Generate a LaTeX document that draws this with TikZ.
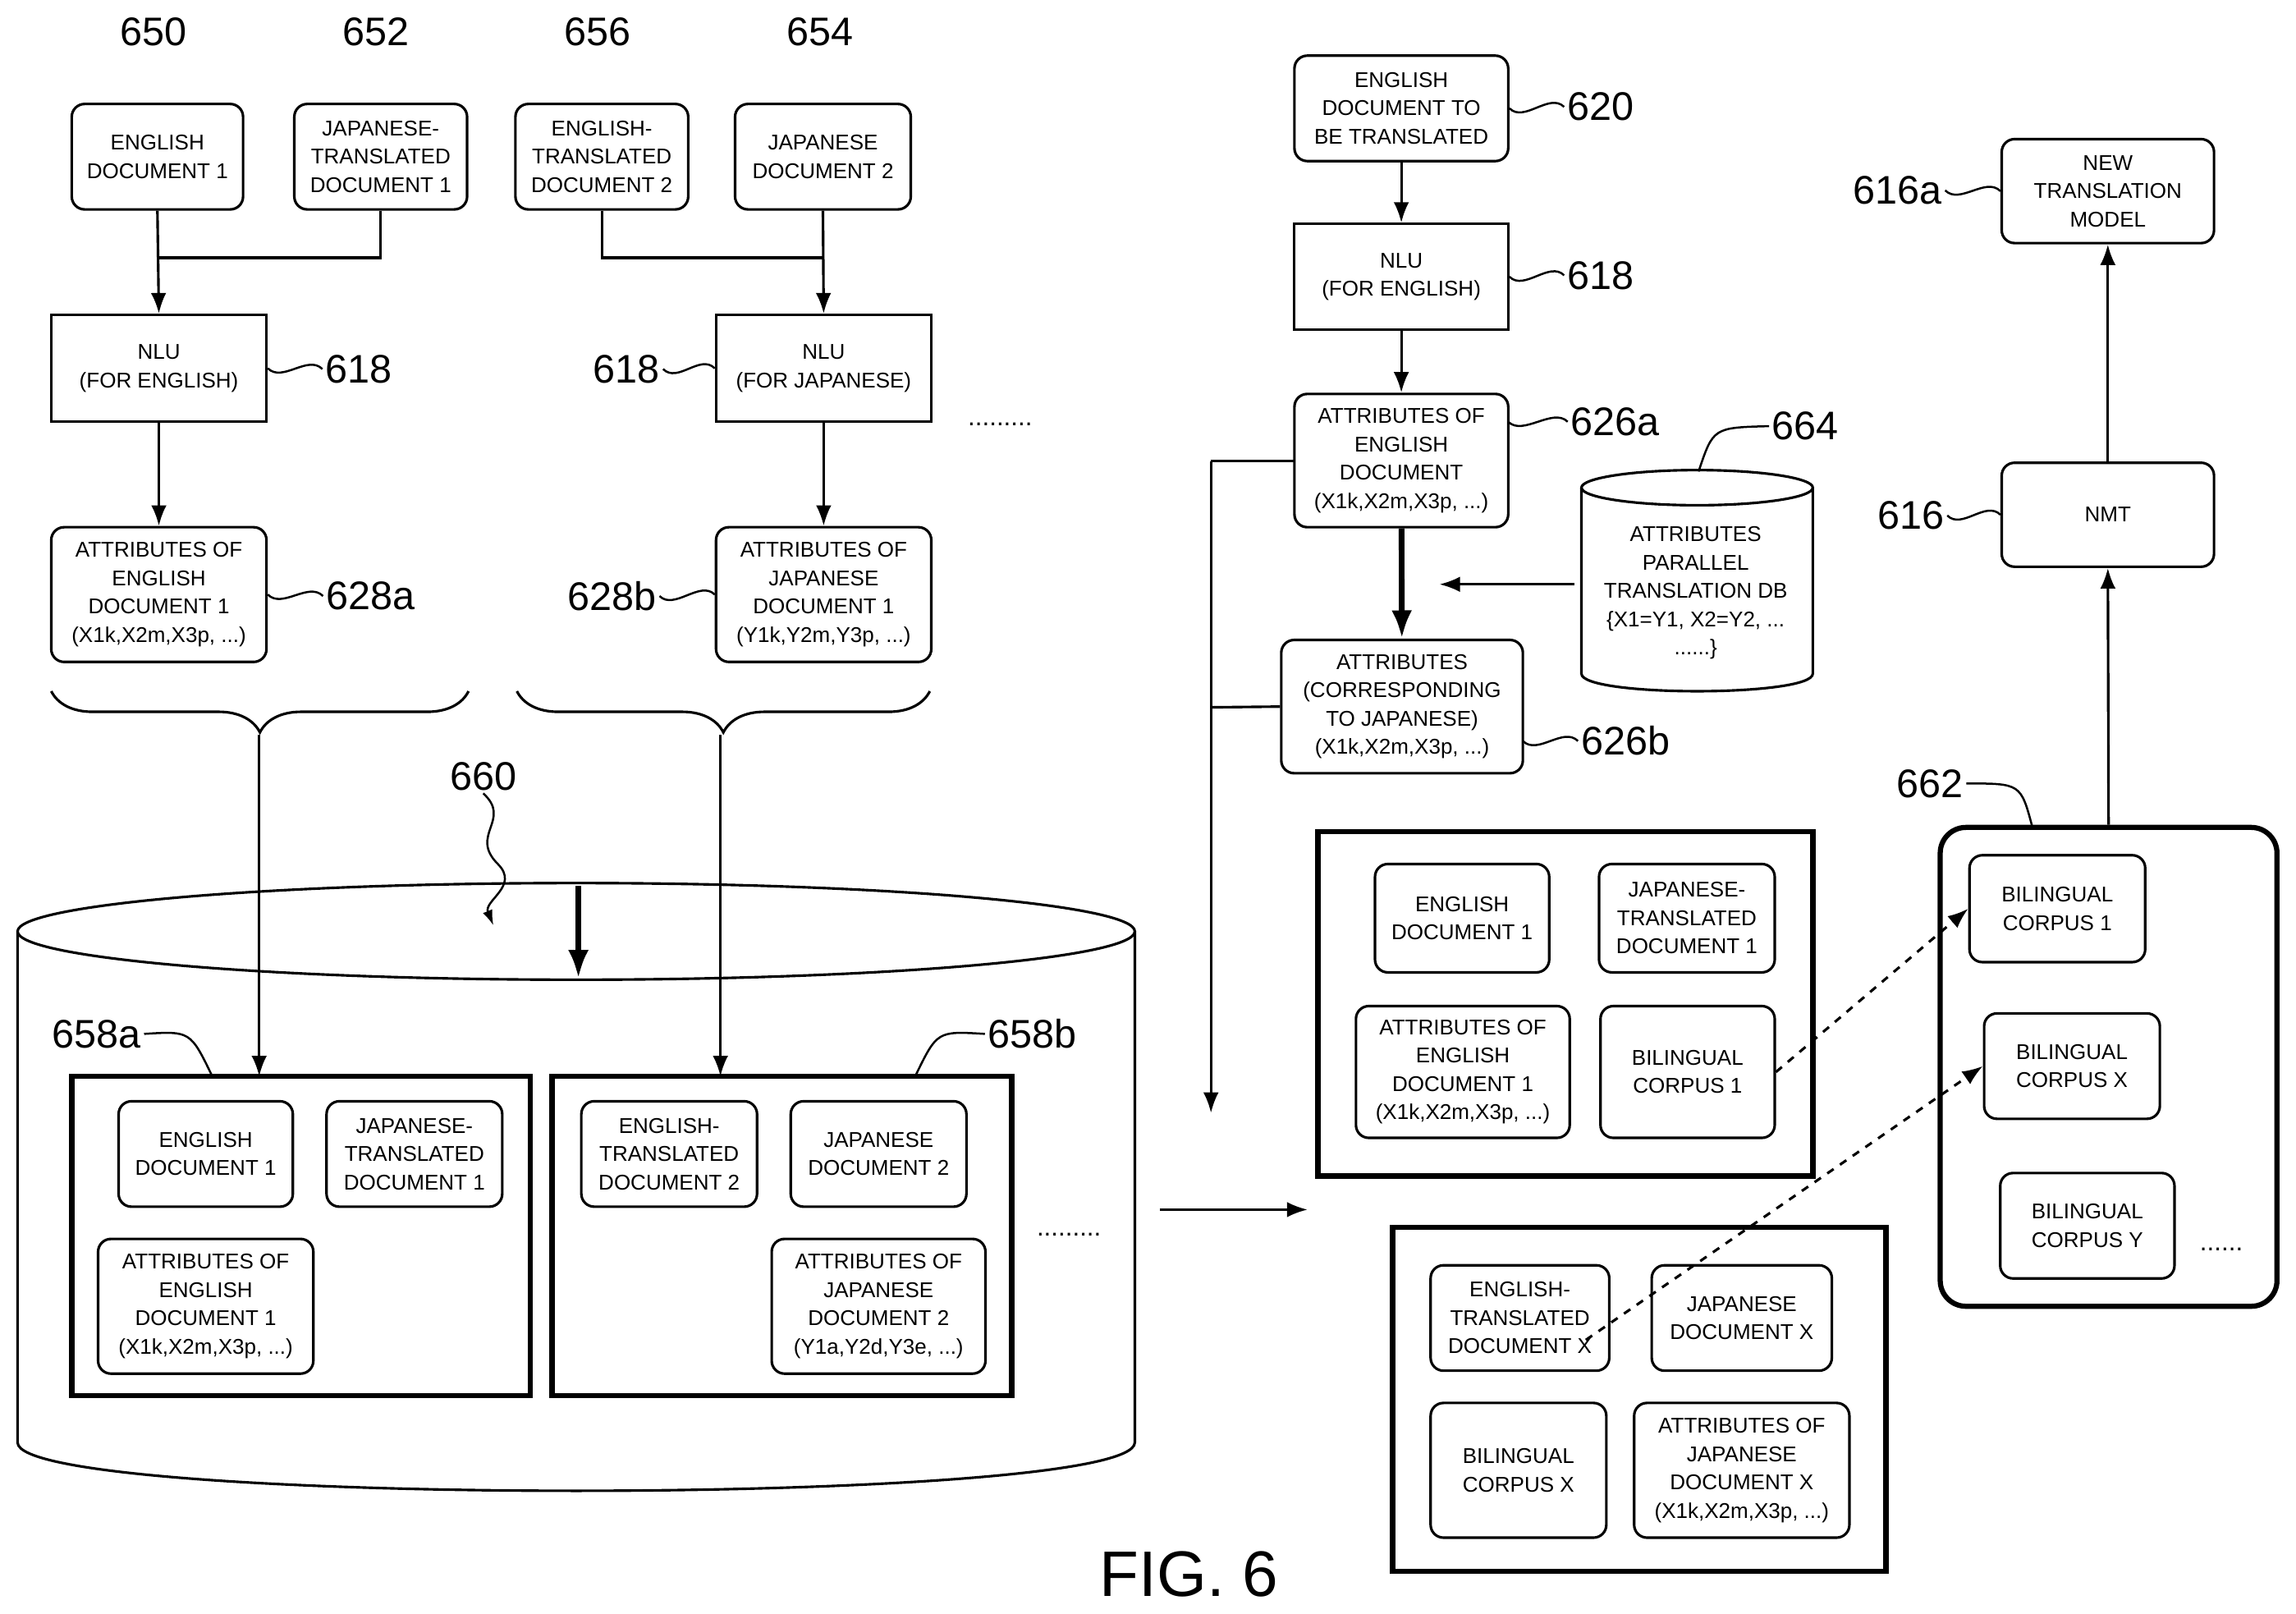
\documentclass[tikz,border=0pt]{standalone}
\usepackage{fontspec}
\setmainfont{Liberation Sans}
\usetikzlibrary{arrows,arrows.meta,decorations.pathreplacing}
\tikzstyle{doc}=[draw, rounded corners=5pt, align=center, inner sep=1pt, font=\fontsize{8.3}{11}\selectfont, line width=1pt]
\tikzstyle{blk}=[draw, align=center, inner sep=1pt, font=\fontsize{8.3}{11}\selectfont, line width=1pt]
\tikzstyle{grp}=[draw, line width=2pt]
\tikzstyle{num}=[font=\fontsize{15.5}{18}\selectfont, inner sep=1pt]
\tikzstyle{flow}=[-{Latex[length=8pt,width=6pt]}, line width=1pt]
\newcommand\lead[2]{\draw[line width=0.8pt] (#1) .. controls +(10,10) and +(-10,-10) .. (#2);}
\begin{document}
\begin{tikzpicture}[x=0.02cm, y=-0.02cm]
	\useasboundingbox (0,0) rectangle (1568,1102);
	% left documents
	\node [doc, minimum width=117*0.02cm, minimum height=72*0.02cm] (d650) at (107.5,107) {ENGLISH\\DOCUMENT 1};
	\node [doc, minimum width=118*0.02cm, minimum height=72*0.02cm] (d652) at (260,107) {JAPANESE-\\TRANSLATED\\DOCUMENT 1};
	\node [doc, minimum width=118*0.02cm, minimum height=72*0.02cm] (d656) at (411,107) {ENGLISH-\\TRANSLATED\\DOCUMENT 2};
	\node [doc, minimum width=120*0.02cm, minimum height=72*0.02cm] (d654) at (562,107) {JAPANESE\\DOCUMENT 2};
	\node [num] (l650) at (105,22) {650};
	\node [num] (l652) at (257,22) {652};
	\node [num] (l656) at (408,22) {656};
	\node [num] (l654) at (560,22) {654};
	\node [blk, minimum width=147*0.02cm, minimum height=73*0.02cm] (nluE) at (108.5,251.5) {NLU\\(FOR ENGLISH)};
	\node [blk, minimum width=147*0.02cm, minimum height=73*0.02cm] (nluJ) at (562.5,251.5) {NLU\\(FOR JAPANESE)};
	\node [doc, minimum width=147*0.02cm, minimum height=92*0.02cm] (atE) at (108.5,406) {ATTRIBUTES OF\\ENGLISH\\DOCUMENT 1\\(X1k,X2m,X3p, ...)};
	\node [doc, minimum width=147*0.02cm, minimum height=92*0.02cm] (atJ) at (562.5,406) {ATTRIBUTES OF\\JAPANESE\\DOCUMENT 1\\(Y1k,Y2m,Y3p, ...)};
	\node [num] (l618a) at (245,252) {618};
	\node [num] (l618b) at (428,252) {618};
	\node [num] (l628a) at (253,407) {628a};
	\node [num] (l628b) at (418,407) {628b};
	\node (dots1) at (683,290) {.........};
	\draw [flow] (d650.south) -- (nluE.north);
	\draw [line width=1pt] (d652.south) |- (108,176);
	\draw [flow] (d654.south) -- (nluJ.north);
	\draw [line width=1pt] (d656.south) |- (562,176);
	\draw [flow] (nluE) -- (atE);
	\draw [flow] (nluJ) -- (atJ);
	\lead{nluE.east}{l618a.west}
	\lead{l618b.east}{nluJ.west}
	\lead{atE.east}{l628a.west}
	\lead{l628b.east}{atJ.west}
	% database 660
	\draw [line width=1pt] (393.5,636) ellipse (381.5 and 33);
	\draw [line width=1pt] (12,636) -- (12,985) .. controls (12,1029) and (775,1029) .. (775,985) -- (775,636);
	\draw [-{Latex[length=11pt,width=8pt]}, line width=2pt] (395,605) -- (395,668);
	\node [num] (l660) at (330,530) {660};
	\draw [-{Latex[length=6pt,width=4pt]}, line width=0.8pt] (l660.south) .. controls (350,560) and (320,570) .. (340,590) .. controls (355,605) and (330,615) .. (337,632);
	\node [grp, minimum width=313*0.02cm, minimum height=218*0.02cm] (g658a) at (205.5,844) {};
	\node [grp, minimum width=314*0.02cm, minimum height=218*0.02cm] (g658b) at (534,844) {};
	\node [doc, minimum width=119*0.02cm, minimum height=72*0.02cm] (a1) at (140.5,788) {ENGLISH\\DOCUMENT 1};
	\node [doc, minimum width=120*0.02cm, minimum height=72*0.02cm] (a2) at (283,788) {JAPANESE-\\TRANSLATED\\DOCUMENT 1};
	\node [doc, minimum width=147*0.02cm, minimum height=92*0.02cm] (a3) at (140.5,892) {ATTRIBUTES OF\\ENGLISH\\DOCUMENT 1\\(X1k,X2m,X3p, ...)};
	\node [doc, minimum width=120*0.02cm, minimum height=72*0.02cm] (b1) at (457,788) {ENGLISH-\\TRANSLATED\\DOCUMENT 2};
	\node [doc, minimum width=120*0.02cm, minimum height=72*0.02cm] (b2) at (600,788) {JAPANESE\\DOCUMENT 2};
	\node [doc, minimum width=146*0.02cm, minimum height=92*0.02cm] (b3) at (600,892) {ATTRIBUTES OF\\JAPANESE\\DOCUMENT 2\\(Y1a,Y2d,Y3e, ...)};
	\node (dots2) at (730,843) {.........};
	\node [num] (l658a) at (66,706) {658a};
	\node [num] (l658b) at (705,706) {658b};
	\draw [line width=0.8pt] (l658a.east) .. controls (130,704) .. (145,735);
	\draw [line width=0.8pt] (l658b.west) .. controls (640,704) .. (625,735);
	\draw [decorate, decoration={brace, amplitude=16pt}, line width=1pt] (320,472) -- (35,472);
	\draw [decorate, decoration={brace, amplitude=16pt}, line width=1pt] (635,472) -- (353,472);
	\coordinate (brA) at (177,502);
	\coordinate (brB) at (492,502);
	\draw [flow] (brA) -- (177,735);
	\draw [flow] (brB) -- (492,735);
	\coordinate (arS) at (792,826);
	\coordinate (arE) at (893,826);
	\draw [flow] (arS) -- (arE);
	\node [font=\fontsize{25}{30}\selectfont] (fig) at (812,1075) {FIG. 6};
	% translation side
	\node [doc, minimum width=146*0.02cm, minimum height=72*0.02cm] (m620) at (957,74) {ENGLISH\\DOCUMENT TO\\BE TRANSLATED};
	\node [blk, minimum width=146*0.02cm, minimum height=72*0.02cm] (mNLU) at (957,189) {NLU\\(FOR ENGLISH)};
	\node [doc, minimum width=146*0.02cm, minimum height=91*0.02cm] (m626a) at (957,314.5) {ATTRIBUTES OF\\ENGLISH\\DOCUMENT\\(X1k,X2m,X3p, ...)};
	\node [doc, minimum width=165*0.02cm, minimum height=91*0.02cm] (m626b) at (957.5,482.5) {ATTRIBUTES\\(CORRESPONDING\\TO JAPANESE)\\(X1k,X2m,X3p, ...)};
	\node [num] (l620) at (1093,73) {620};
	\node [num] (l618c) at (1093,188) {618};
	\node [num] (l626a) at (1103,288) {626a};
	\node [num] (l626b) at (1110,506) {626b};
	\lead{m620.east}{l620.west}
	\lead{mNLU.east}{l618c.west}
	\lead{1030,288}{l626a.west}
	\lead{1040,506}{l626b.west}
	\draw [flow] (m620) -- (mNLU);
	\draw [flow] (mNLU) -- (m626a);
	\draw [-{Latex[length=11pt,width=8pt]}, line width=2.2pt] (m626a) -- (m626b);
	\draw [line width=1pt] (884,315) -- (827,315);
	\draw [line width=1pt] (m626b.west) -- (827,483);
	\draw [flow] (827,315) -- (827,760);
	% database 664
	\draw [line width=1pt] (1159,333) ellipse (79 and 12);
	\draw [line width=1pt] (1080,333) -- (1080,460) .. controls (1080,476) and (1238,476) .. (1238,460) -- (1238,333);
	\node [align=center, font=\fontsize{8.3}{11}\selectfont] (c664) at (1158,405) {ATTRIBUTES\\PARALLEL\\TRANSLATION DB\\\{X1=Y1, X2=Y2, ...\\......\}};
	\node [num] (l664) at (1233,291) {664};
	\draw [line width=0.8pt] (l664.west) .. controls (1170,292) .. (1160,322);
	\coordinate (dbL) at (1075,399);
	\draw [flow] (dbL) -- (983,399);
	% corpus groups
	\node [grp, minimum width=338*0.02cm, minimum height=235*0.02cm] (g1) at (1069,685.5) {};
	\node [doc, minimum width=119*0.02cm, minimum height=74*0.02cm] (e1) at (998.5,627) {ENGLISH\\DOCUMENT 1};
	\node [doc, minimum width=120*0.02cm, minimum height=74*0.02cm] (e2) at (1152,627) {JAPANESE-\\TRANSLATED\\DOCUMENT 1};
	\node [doc, minimum width=146*0.02cm, minimum height=90*0.02cm] (e3) at (999,732) {ATTRIBUTES OF\\ENGLISH\\DOCUMENT 1\\(X1k,X2m,X3p, ...)};
	\node [doc, minimum width=119*0.02cm, minimum height=90*0.02cm] (e4) at (1152.5,732) {BILINGUAL\\CORPUS 1};
	\node [grp, minimum width=337*0.02cm, minimum height=235*0.02cm] (g2) at (1119.5,955.5) {};
	\node [doc, minimum width=122*0.02cm, minimum height=72*0.02cm] (f1) at (1038,900) {ENGLISH-\\TRANSLATED\\DOCUMENT X};
	\node [doc, minimum width=123*0.02cm, minimum height=72*0.02cm] (f2) at (1189.5,900) {JAPANESE\\DOCUMENT X};
	\node [doc, minimum width=120*0.02cm, minimum height=92*0.02cm] (f3) at (1037,1004) {BILINGUAL\\CORPUS X};
	\node [doc, minimum width=147*0.02cm, minimum height=92*0.02cm] (f4) at (1189.5,1004) {ATTRIBUTES OF\\JAPANESE\\DOCUMENT X\\(X1k,X2m,X3p, ...)};
	\node [grp, rounded corners=10pt, minimum width=230*0.02cm, minimum height=327*0.02cm] (g662) at (1440,728.5) {};
	\node [doc, minimum width=120*0.02cm, minimum height=73*0.02cm] (h1) at (1405,620.5) {BILINGUAL\\CORPUS 1};
	\node [doc, minimum width=120*0.02cm, minimum height=72*0.02cm] (h2) at (1415,728) {BILINGUAL\\CORPUS X};
	\node [doc, minimum width=119*0.02cm, minimum height=72*0.02cm] (h3) at (1425.5,837) {BILINGUAL\\CORPUS Y};
	\node (dots3) at (1517,853) {......};
	\node [num] (l662) at (1318,535) {662};
	\draw [line width=0.8pt] (l662.east) .. controls (1380,535) .. (1388,565);
	\coordinate (fx) at (1083,915);
	\draw [-{Latex[length=8pt,width=6pt]}, dashed, line width=1pt] (e4.east) -- (h1.west);
	\draw [-{Latex[length=8pt,width=6pt]}, dashed, line width=1pt] (fx) -- (h2.west);
	\node [doc, minimum width=145*0.02cm, minimum height=71*0.02cm] (nmt) at (1439.5,351.5) {NMT};
	\node [doc, minimum width=145*0.02cm, minimum height=71*0.02cm] (ntm) at (1439.5,130.5) {NEW\\TRANSLATION\\MODEL};
	\node [num] (l616) at (1305,352) {616};
	\node [num] (l616a) at (1296,130) {616a};
	\lead{l616.east}{nmt.west}
	\lead{l616a.east}{ntm.west}
	\draw [flow] (g662.north) -- (nmt.south);
	\draw [flow] (nmt.north) -- (ntm.south);
\end{tikzpicture}
\end{document}
